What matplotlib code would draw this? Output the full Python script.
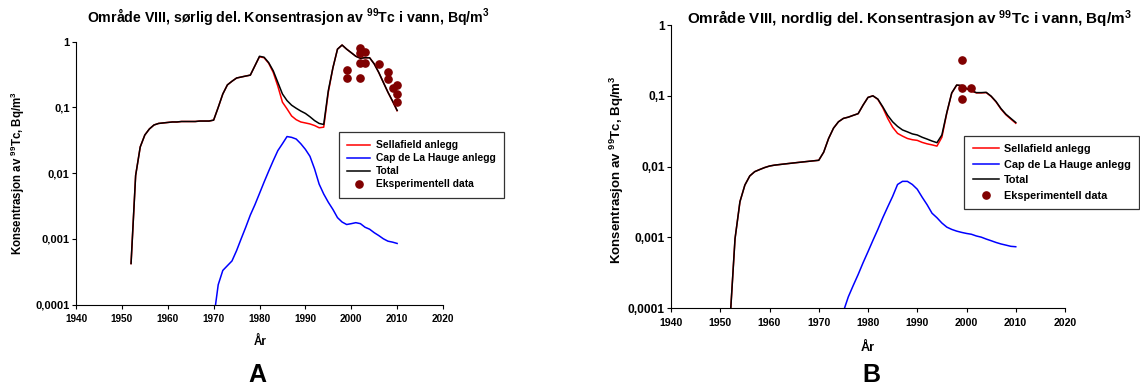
import matplotlib
matplotlib.use('Agg')
from matplotlib import pyplot as plt

plt.rcParams['font.family'] = ['Liberation Sans', 'DejaVu Sans']
plt.rcParams['font.weight'] = 'bold'
plt.rcParams['mathtext.fontset'] = 'custom'
plt.rcParams['mathtext.rm'] = 'Liberation Sans:bold'
plt.rcParams['mathtext.it'] = 'Liberation Sans:bold'
plt.rcParams['mathtext.bf'] = 'Liberation Sans:bold'

years = list(range(1952, 2011))

# Område VIII, sørlig del
sor_total = [0.00042, 0.0092, 0.025, 0.038, 0.047, 0.054, 0.057, 0.058, 0.059, 0.060,
             0.060, 0.061, 0.061, 0.061, 0.061, 0.062, 0.062, 0.062, 0.064, 0.10,
             0.16, 0.22, 0.25, 0.28, 0.29, 0.30, 0.31, 0.43, 0.60, 0.58,
             0.48, 0.36, 0.24, 0.16, 0.127, 0.108, 0.097, 0.088, 0.081, 0.072,
             0.063, 0.057, 0.055, 0.18, 0.40, 0.77, 0.89, 0.77, 0.68, 0.60,
             0.56, 0.57, 0.57, 0.46, 0.34, 0.24, 0.17, 0.125, 0.09]
sor_sellafield = [0.00042, 0.0092, 0.025, 0.038, 0.047, 0.054, 0.057, 0.058, 0.059, 0.060,
                  0.060, 0.061, 0.061, 0.061, 0.061, 0.062, 0.062, 0.062, 0.064, 0.10,
                  0.16, 0.22, 0.25, 0.28, 0.29, 0.30, 0.31, 0.43, 0.59, 0.57,
                  0.47, 0.34, 0.21, 0.12, 0.095, 0.074, 0.065, 0.060, 0.058, 0.056,
                  0.053, 0.049, 0.050, 0.17, 0.40, 0.77, 0.89, 0.77, 0.68, 0.60,
                  0.56, 0.57, 0.57, 0.46, 0.34, 0.24, 0.17, 0.124, 0.089]
sor_cap_years = list(range(1970, 2011))
sor_cap = [0.00006, 0.0002, 0.00033, 0.00039, 0.00046, 0.00066, 0.001, 0.0015, 0.0023, 0.0033,
           0.0049, 0.0073, 0.0107, 0.0155, 0.022, 0.028, 0.036, 0.035, 0.033, 0.028,
           0.023, 0.018, 0.0116, 0.0068, 0.0048, 0.0036, 0.0028, 0.0021, 0.0018, 0.00165,
           0.0017, 0.00176, 0.0017, 0.0015, 0.0014, 0.00124, 0.00112, 0.001, 0.00092, 0.00089,
           0.00085]
sor_exp_years = [1999, 1999, 2002, 2002, 2002, 2002, 2003, 2003, 2006, 2008, 2008, 2009, 2010, 2010, 2010]
sor_exp = [0.37, 0.277, 0.79, 0.67, 0.47, 0.277, 0.70, 0.47, 0.46, 0.35, 0.27, 0.195, 0.22, 0.16, 0.122]

# Område VIII, nordlig del
nord_total = [0.00007, 0.00096, 0.0032, 0.0055, 0.0074, 0.0085, 0.0091, 0.0097, 0.0102, 0.0105,
              0.0107, 0.0109, 0.0111, 0.0113, 0.0115, 0.0117, 0.0119, 0.0121, 0.0123, 0.016,
              0.025, 0.035, 0.043, 0.048, 0.050, 0.053, 0.056, 0.074, 0.095, 0.10,
              0.09, 0.070, 0.053, 0.043, 0.037, 0.033, 0.031, 0.029, 0.028, 0.026,
              0.0245, 0.023, 0.0218, 0.028, 0.058, 0.11, 0.142, 0.14, 0.127, 0.118,
              0.111, 0.111, 0.112, 0.099, 0.083, 0.066, 0.055, 0.048, 0.042]
nord_sellafield = [0.00007, 0.00096, 0.0032, 0.0055, 0.0074, 0.0085, 0.0091, 0.0097, 0.0102, 0.0105,
                   0.0107, 0.0109, 0.0111, 0.0113, 0.0115, 0.0117, 0.0119, 0.0121, 0.0123, 0.016,
                   0.025, 0.035, 0.043, 0.048, 0.050, 0.053, 0.056, 0.074, 0.095, 0.10,
                   0.089, 0.068, 0.048, 0.036, 0.0295, 0.027, 0.025, 0.024, 0.0235, 0.022,
                   0.021, 0.0203, 0.0195, 0.026, 0.057, 0.109, 0.141, 0.139, 0.126, 0.117,
                   0.110, 0.110, 0.111, 0.098, 0.082, 0.065, 0.054, 0.047, 0.041]
nord_cap_years = list(range(1975, 2011))
nord_cap = [0.00009, 0.000145, 0.00021, 0.0003, 0.00044, 0.00063, 0.00091, 0.0013, 0.0019, 0.0027,
            0.0038, 0.0056, 0.0062, 0.0062, 0.0056, 0.0048, 0.0037, 0.0029, 0.0022, 0.0019,
            0.0016, 0.0014, 0.0013, 0.00123, 0.00118, 0.00114, 0.00111, 0.00105, 0.00101, 0.00095,
            0.0009, 0.00085, 0.00081, 0.00078, 0.00075, 0.00074]
nord_exp_years = [1999, 1999, 1999, 2001]
nord_exp = [0.32, 0.13, 0.09, 0.13]

ytick_vals = [0.0001, 0.001, 0.01, 0.1, 1]
ytick_labels = ['0,0001', '0,001', '0,01', '0,1', '1']
xtick_vals = list(range(1940, 2021, 10))

W, H = 1140.0, 390.0
DOT = '#800000'


def box(left, top, right, bottom):
    return [left / W, 1 - bottom / H, (right - left) / W, (bottom - top) / H]


def panel(fig, rect, sella, cap_years, cap, total, exp_years, exp, xfs, yfs, leg):
    ax = fig.add_axes(rect)
    ax.plot(years, sella, color='#ff0000', lw=1.1, label='Sellafield anlegg')
    ax.plot(cap_years, cap, color='#0000ff', lw=1.1, label='Cap de La Hauge anlegg')
    ax.plot(years, total, color='black', lw=1.1, label='Total')
    ax.plot(exp_years, exp, 'o', color=DOT, ms=5.2, label='Eksperimentell data')
    ax.set_yscale('log')
    ax.set_ylim(0.0001, 1)
    ax.set_xlim(1940, 2020)
    ax.set_yticks(ytick_vals)
    ax.set_yticklabels(ytick_labels)
    ax.minorticks_off()
    ax.set_xticks(xtick_vals)
    ax.tick_params(axis='x', labelsize=xfs, length=3, width=0.8, pad=4)
    ax.tick_params(axis='y', labelsize=yfs, length=3, width=0.8, pad=1.5)
    ax.spines['top'].set_visible(False)
    ax.spines['right'].set_visible(False)
    for s in ['left', 'bottom']:
        ax.spines[s].set_linewidth(0.8)
    x0, y0, fs, hl, tp, sp = leg
    lg = ax.legend(loc='upper left', bbox_to_anchor=(x0 / W, 1 - y0 / H),
                   bbox_transform=fig.transFigure, fontsize=fs, frameon=True,
                   fancybox=False, borderaxespad=0, handlelength=hl, handletextpad=tp,
                   labelspacing=sp, borderpad=0.8)
    lg.get_frame().set_edgecolor('black')
    lg.get_frame().set_linewidth(0.9)
    return ax


fig = plt.figure(figsize=(11.4, 3.9), dpi=100)

panel(fig, box(76, 41.7, 443, 304.5), sor_sellafield, sor_cap_years, sor_cap, sor_total,
      sor_exp_years, sor_exp, 7.2, 8.0, (339, 132, 7.4, 2.25, 0.55, 0.3))
panel(fig, box(671, 25, 1065, 308.3), nord_sellafield, nord_cap_years, nord_cap, nord_total,
      nord_exp_years, nord_exp, 7.6, 8.6, (964, 135.5, 7.85, 2.4, 0.45, 0.5))

fig.text(288 / W, 1 - 16.7 / H,
         'Område VIII, sørlig del. Konsentrasjon av $^{99}$Tc i vann, Bq/m$^3$',
         ha='center', va='center', fontsize=10.2, fontweight='bold')
fig.text(909 / W, 1 - 19 / H,
         'Område VIII, nordlig del. Konsentrasjon av $^{99}$Tc i vann, Bq/m$^3$',
         ha='center', va='center', fontsize=11, fontweight='bold')

fig.text(18 / W, 1 - 173 / H, 'Konsentrasjon av $^{99}$Tc, Bq/m$^3$', rotation=90,
         ha='center', va='center', fontsize=8.3, fontweight='bold')
fig.text(617 / W, 1 - 170 / H, 'Konsentrasjon av $^{99}$Tc, Bq/m$^3$', rotation=90,
         ha='center', va='center', fontsize=9.5, fontweight='bold')

fig.text(260 / W, 1 - 341.7 / H, 'År', ha='center', va='center', fontsize=8.5, fontweight='bold')
fig.text(868 / W, 1 - 348.3 / H, 'År', ha='center', va='center', fontsize=9.2, fontweight='bold')

fig.text(257 / W, 1 - 375 / H, 'A', ha='center', va='center', fontsize=18, fontweight='bold')
fig.text(871 / W, 1 - 375 / H, 'B', ha='center', va='center', fontsize=18, fontweight='bold')

fig.savefig('out.png', dpi=100)
